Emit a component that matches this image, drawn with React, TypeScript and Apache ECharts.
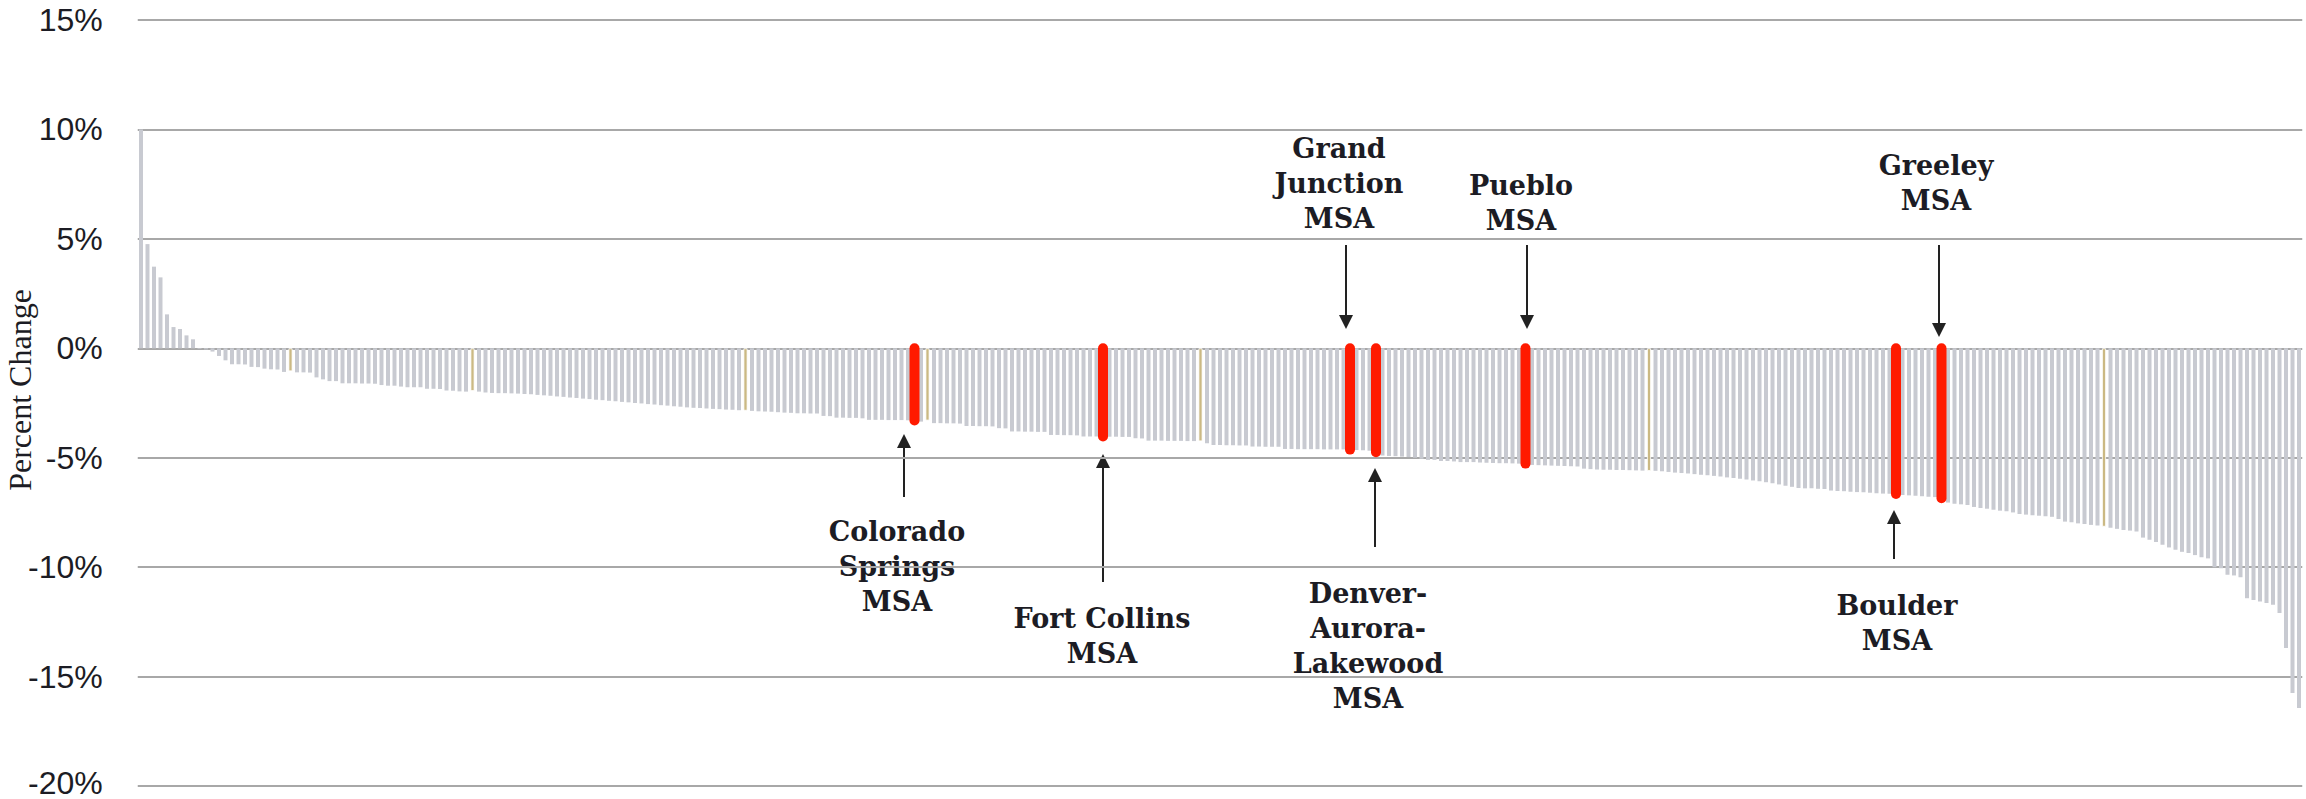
import React, { useEffect, useRef } from "react";
import * as echarts from "echarts";

// Percent change per MSA, sorted (one bar per MSA)
const values: number[] = [
  10, 4.76, 3.73, 3.24, 1.55, 0.97, 0.88, 0.59, 0.41, -0.03,
  -0.05, -0.15, -0.35, -0.55, -0.73, -0.73, -0.74, -0.85, -0.86, -0.93,
  -0.96, -0.97, -1.08, -1.05, -1.1, -1.1, -1.11, -1.33, -1.42, -1.5,
  -1.5, -1.6, -1.6, -1.6, -1.61, -1.61, -1.62, -1.68, -1.71, -1.71,
  -1.75, -1.78, -1.78, -1.78, -1.85, -1.85, -1.86, -1.93, -1.94, -1.97,
  -1.98, -1.95, -1.98, -2.02, -2.04, -2.05, -2.05, -2.06, -2.07, -2.09,
  -2.1, -2.13, -2.15, -2.17, -2.2, -2.22, -2.25, -2.27, -2.3, -2.32,
  -2.35, -2.37, -2.4, -2.42, -2.45, -2.47, -2.5, -2.52, -2.55, -2.57,
  -2.6, -2.62, -2.65, -2.67, -2.7, -2.72, -2.73, -2.75, -2.77, -2.78,
  -2.8, -2.81, -2.83, -2.85, -2.86, -2.88, -2.89, -2.9, -2.92, -2.94,
  -2.95, -2.97, -2.97, -2.98, -2.98, -3.09, -3.1, -3.17, -3.17, -3.18,
  -3.18, -3.2, -3.27, -3.27, -3.27, -3.28, -3.28, -3.28, -3.29, -3.3,
  -3.35, -3.3, -3.42, -3.42, -3.43, -3.43, -3.44, -3.55, -3.55, -3.56,
  -3.56, -3.57, -3.65, -3.66, -3.8, -3.8, -3.81, -3.81, -3.82, -3.82,
  -3.96, -3.96, -3.97, -3.97, -3.98, -4.03, -4.03, -4.03, -4.03, -4.04,
  -4.04, -4.05, -4.05, -4.11, -4.12, -4.22, -4.22, -4.22, -4.23, -4.23,
  -4.23, -4.24, -4.24, -4.25, -4.34, -4.42, -4.42, -4.43, -4.43, -4.44,
  -4.44, -4.49, -4.49, -4.5, -4.5, -4.5, -4.6, -4.6, -4.61, -4.61,
  -4.61, -4.61, -4.62, -4.62, -4.62, -4.62, -4.63, -4.65, -4.66, -4.68,
  -4.75, -4.9, -4.92, -4.93, -4.95, -4.97, -5.0, -5.05, -5.1, -5.1,
  -5.15, -5.15, -5.17, -5.2, -5.2, -5.2, -5.22, -5.23, -5.24, -5.25,
  -5.25, -5.26, -5.27, -5.27, -5.33, -5.34, -5.35, -5.36, -5.37, -5.38,
  -5.39, -5.4, -5.5, -5.52, -5.54, -5.55, -5.55, -5.56, -5.56, -5.57,
  -5.58, -5.59, -5.6, -5.6, -5.62, -5.65, -5.68, -5.7, -5.72, -5.75,
  -5.78, -5.8, -5.83, -5.86, -5.9, -5.93, -5.96, -6.0, -6.04, -6.08,
  -6.12, -6.17, -6.22, -6.28, -6.33, -6.38, -6.4, -6.4, -6.42, -6.43,
  -6.5, -6.52, -6.53, -6.55, -6.57, -6.58, -6.6, -6.62, -6.64, -6.65,
  -6.66, -6.7, -6.72, -6.74, -6.76, -6.78, -6.8, -6.85, -7.05, -7.1,
  -7.13, -7.16, -7.25, -7.3, -7.33, -7.38, -7.42, -7.45, -7.5, -7.57,
  -7.6, -7.63, -7.65, -7.68, -7.7, -7.8, -7.92, -7.95, -8.0, -8.03,
  -8.07, -8.1, -8.15, -8.2, -8.25, -8.3, -8.33, -8.37, -8.65, -8.75,
  -8.85, -8.98, -9.1, -9.2, -9.3, -9.35, -9.45, -9.55, -9.6, -10.0,
  -10.05, -10.35, -10.38, -10.46, -11.42, -11.5, -11.57, -11.64, -11.72, -12.1,
  -13.7, -15.75, -16.44,
];

// Colorado MSAs (highlighted in red)
const highlightIndex: number[] = [119, 148, 186, 190, 213, 270, 277];
const highlightLabels: string[] = [
  "Colorado\nSprings\nMSA",
  "Fort Collins\nMSA",
  "Grand\nJunction\nMSA",
  "Denver-\nAurora-\nLakewood\nMSA",
  "Pueblo\nMSA",
  "Boulder\nMSA",
  "Greeley\nMSA",
];
// bars drawn in tan
const goldIndex: number[] = [23, 51, 93, 121, 163, 232, 302];

const yTickValues: number[] = [-20, -15, -10, -5, 0, 5, 10, 15];
const yAxisTitle = "Percent Change";

// annotation layout (pixels): text centre x, text top y, arrow x, arrow tail y, arrow tip y
const annLayout = [
  { tx: 897, ty: 514, ax: 904, tail: 497, tip: 434 },
  { tx: 1102, ty: 601, ax: 1103, tail: 582, tip: 454 },
  { tx: 1339, ty: 131, ax: 1346, tail: 245, tip: 329 },
  { tx: 1368, ty: 576, ax: 1375, tail: 547, tip: 468 },
  { tx: 1521, ty: 168, ax: 1527, tail: 245, tip: 329 },
  { tx: 1897, ty: 588, ax: 1894, tail: 559, tip: 510 },
  { tx: 1936, ty: 148, ax: 1939, tail: 245, tip: 337 },
];

const GRAY = "#c8cad1";
const GOLD = "#cbb983";
const RED = "#ff1a00";
const GRID = "#a8a8a8";
const INK = "#1c1c24";

export default function App() {
  const ref = useRef<HTMLDivElement>(null);

  useEffect(() => {
    if (!ref.current) return;
    const chart = echarts.init(ref.current, undefined, { renderer: "svg" });
    const categories = values.map((_, i) => String(i + 1));
    const hl = new Set(highlightIndex);
    const gold = new Set(goldIndex);

    const grayData = values.map((v, i) =>
      hl.has(i)
        ? "-"
        : gold.has(i)
        ? { value: v, itemStyle: { color: GOLD, borderColor: "#ffffff", borderWidth: 0.8 } }
        : v
    );
    const redData = highlightIndex.map((i) => [i, values[i]]);

    const graphics: any[] = [];
    graphics.push({
      type: "text",
      x: 20,
      y: 390,
      rotation: Math.PI / 2,
      style: {
        text: yAxisTitle,
        font: '32px "Liberation Serif"',
        fill: INK,
        textAlign: "center",
        textVerticalAlign: "middle",
      },
    });
    annLayout.forEach((a, k) => {
      graphics.push({
        type: "text",
        x: a.tx,
        y: a.ty,
        style: {
          text: highlightLabels[k],
          font: 'bold 27px "DejaVu Serif"',
          fill: INK,
          textAlign: "center",
          textVerticalAlign: "top",
          lineHeight: 35,
        },
      });
      const dir = a.tip > a.tail ? 1 : -1;
      const headLen = 14;
      const half = 7;
      graphics.push({
        type: "line",
        shape: { x1: a.ax, y1: a.tail, x2: a.ax, y2: a.tip - dir * headLen },
        style: { stroke: "#222", lineWidth: 2 },
      });
      graphics.push({
        type: "polygon",
        shape: {
          points: [
            [a.ax, a.tip],
            [a.ax - half, a.tip - dir * headLen],
            [a.ax + half, a.tip - dir * headLen],
          ],
        },
        style: { fill: "#222" },
      });
    });

    const labelFont = {
      fontSize: 32,
      fontFamily: '"Liberation Sans", Arial, sans-serif',
      color: INK,
    };

    chart.setOption({
      animation: false,
      grid: { left: 137.75, right: 3.75, top: 20, bottom: 13, containLabel: false },
      xAxis: {
        type: "category",
        data: categories,
        axisLine: { show: false },
        axisTick: { show: false },
        axisLabel: { show: false },
        splitLine: { show: false },
      },
      yAxis: {
        type: "value",
        min: yTickValues[0],
        max: yTickValues[yTickValues.length - 1],
        interval: yTickValues[1] - yTickValues[0],
        axisLine: { show: false },
        axisTick: { show: false },
        axisLabel: {
          ...labelFont,
          margin: 35,
          formatter: (v: number) =>
            v === yTickValues[0] ? `{low|${v}%}` : `${v}%`,
          rich: {
            low: { ...labelFont, padding: [0, 0, 7, 0] },
          },
        },
        splitLine: { lineStyle: { color: GRID, width: 2 } },
      },
      series: [
        {
          type: "bar",
          data: grayData,
          barWidth: 4,
          itemStyle: { color: GRAY },
          z: 2,
        },
        {
          type: "custom",
          data: redData,
          encode: { x: 0, y: 1 },
          z: 5,
          clip: false,
          renderItem: (params: any, api: any) => {
            const p0 = api.coord([api.value(0), 0]);
            const p1 = api.coord([api.value(0), api.value(1)]);
            return {
              type: "line",
              shape: { x1: p0[0], y1: p0[1], x2: p1[0], y2: p1[1] },
              style: { stroke: RED, lineWidth: 10, lineCap: "round" },
            };
          },
        },
      ],
      graphic: graphics,
    });

    return () => chart.dispose();
  }, []);

  return (
    <div
      ref={ref}
      style={{ position: "absolute", left: 0, top: 0, width: 2306, height: 799 }}
    />
  );
}
